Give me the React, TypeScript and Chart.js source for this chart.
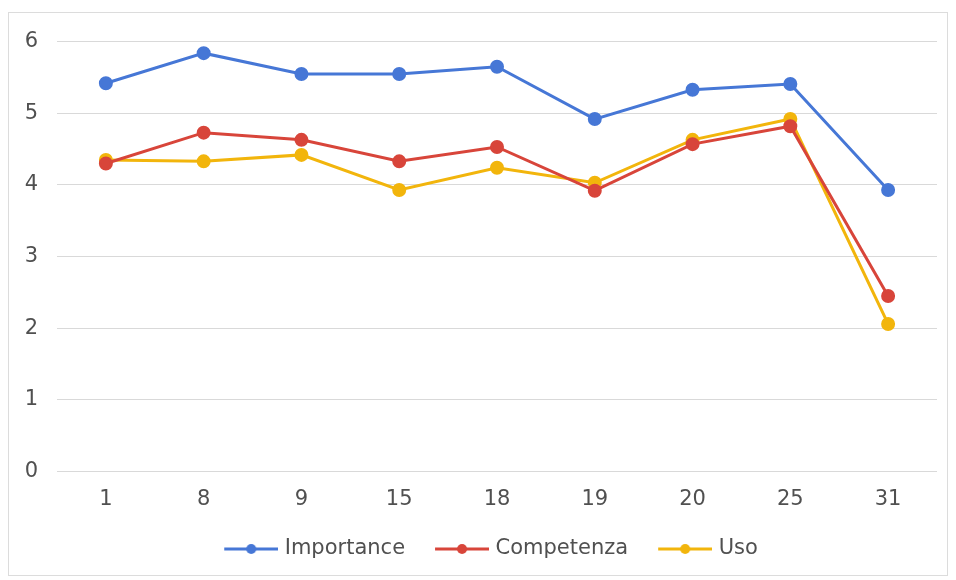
import React, { useEffect, useRef } from "react";
import { Chart, registerables } from "chart.js";

Chart.register(...registerables);

const categories = ["1", "8", "9", "15", "18", "19", "20", "25", "31"];
const importance = [5.42, 5.84, 5.55, 5.55, 5.65, 4.92, 5.33, 5.41, 3.93];
const competenza = [4.3, 4.73, 4.63, 4.33, 4.53, 3.92, 4.57, 4.82, 2.45];
const uso = [4.35, 4.33, 4.42, 3.93, 4.24, 4.03, 4.63, 4.92, 2.06];
const yTicks = [0, 1, 2, 3, 4, 5, 6];

const seriesNames = ["Importance", "Competenza", "Uso"];
const seriesColors = ["#4677D6", "#D8453A", "#F2B50C"];

const FONT = "'DejaVu Sans', Verdana, sans-serif";
const TEXT_COLOR = "#505050";

function legendIcon(color: string) {
  const c = document.createElement("canvas");
  c.width = 62;
  c.height = 14;
  const ctx = c.getContext("2d")!;
  ctx.strokeStyle = color;
  ctx.lineWidth = 3;
  ctx.beginPath();
  ctx.moveTo(8, 7);
  ctx.lineTo(62, 7);
  ctx.stroke();
  ctx.fillStyle = color;
  ctx.beginPath();
  ctx.arc(35, 7, 5, 0, Math.PI * 2);
  ctx.fill();
  return c;
}

const legendShift = {
  id: "legendShift",
  afterLayout(chart: any) {
    const lg = chart.legend;
    if (lg) {
      lg.left += 16;
      lg.right += 16;
    }
  },
};

export default function App() {
  const ref = useRef<HTMLCanvasElement | null>(null);

  useEffect(() => {
    if (!ref.current) return;
    const icons = seriesColors.map(legendIcon);
    const values = [importance, competenza, uso];
    const chart = new Chart(ref.current, {
      type: "line",
      plugins: [legendShift],
      data: {
        labels: categories,
        datasets: seriesNames.map((name, i) => ({
          label: name,
          data: values[i],
          borderColor: seriesColors[i],
          backgroundColor: seriesColors[i],
          pointBackgroundColor: seriesColors[i],
          pointBorderColor: seriesColors[i],
          borderWidth: 3,
          pointRadius: 5.5,
          pointHoverRadius: 5.5,
          tension: 0,
          fill: false,
        })),
      },
      options: {
        animation: false,
        responsive: false,
        maintainAspectRatio: false,
        layout: { padding: { top: 28.7, right: 10, left: 0, bottom: 5.5 } },
        plugins: {
          tooltip: { enabled: false },
          legend: {
            position: "bottom",
            labels: {
              usePointStyle: true,
              pointStyleWidth: 54,
              padding: 26,
              color: TEXT_COLOR,
              font: { family: FONT, size: 21 },
              generateLabels: (ch: any) =>
                ch.data.datasets.map((ds: any, i: number) => ({
                  text: ds.label,
                  fillStyle: seriesColors[i],
                  strokeStyle: seriesColors[i],
                  lineWidth: 0,
                  pointStyle: icons[i],
                  hidden: false,
                  datasetIndex: i,
                  fontColor: TEXT_COLOR,
                })),
            },
          },
        },
        scales: {
          x: {
            offset: true,
            afterFit: (s: any) => {
              s.height = 41;
            },
            grid: { display: false, drawTicks: false },
            border: { display: false },
            ticks: {
              color: TEXT_COLOR,
              padding: 15.6,
              font: { family: FONT, size: 21 },
            },
          },
          y: {
            min: 0,
            max: 6,
            afterFit: (s: any) => {
              s.width = 48;
              s.paddingTop = 0;
              s.paddingBottom = 0;
            },
            afterBuildTicks: (s: any) => {
              s.ticks = yTicks.map((v) => ({ value: v }));
            },
            grid: { color: "#d9d9d9", lineWidth: 1, drawTicks: false },
            border: { display: false },
            ticks: {
              color: TEXT_COLOR,
              padding: 19,
              font: { family: FONT, size: 21 },
            },
          },
        },
      },
    } as any);
    return () => chart.destroy();
  }, []);

  return (
    <div
      style={{
        position: "absolute",
        left: 8,
        top: 12,
        width: 938,
        height: 562,
        border: "1px solid #dcdcdc",
        background: "#fff",
      }}
    >
      <canvas ref={ref} width={938} height={562} style={{ display: "block" }} />
    </div>
  );
}
